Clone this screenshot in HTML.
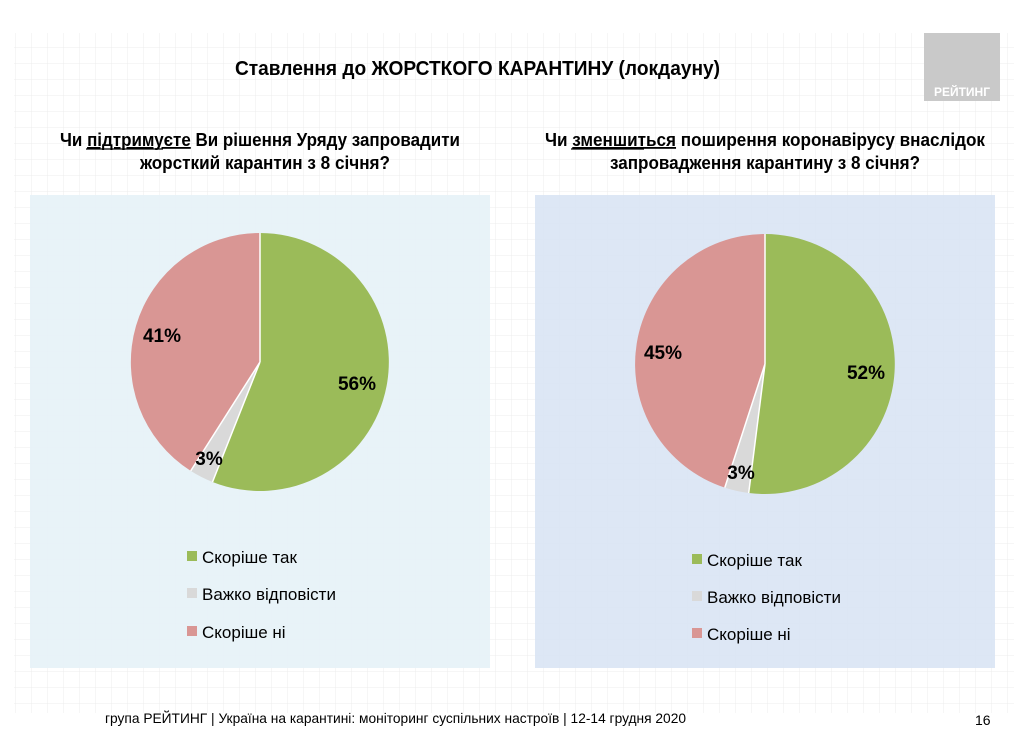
<!DOCTYPE html>
<html><head><meta charset="utf-8"><style>
html,body{margin:0;padding:0;background:#fff;}
svg{display:block;font-family:"Liberation Sans Narrow","Liberation Sans",sans-serif;}
</style></head><body>
<svg width="1024" height="732" viewBox="0 0 1024 732" xmlns="http://www.w3.org/2000/svg">
<defs>
<pattern id="g" width="16" height="16" patternUnits="userSpaceOnUse">
<path d="M16 0V16H0" fill="none" stroke="#ececec" stroke-width="1"/>
</pattern>
</defs>
<rect x="0" y="0" width="1024" height="732" fill="#fff"/>
<rect x="14" y="33" width="1000" height="680" fill="url(#g)"/>
<rect x="924" y="33" width="76" height="68" fill="#c9c9c9"/>
<text x="962" y="96" font-size="12" font-weight="bold" fill="#fff" text-anchor="middle">РЕЙТИНГ</text>
<text x="235" y="75" font-size="20" font-weight="bold" fill="#000" textLength="485" lengthAdjust="spacingAndGlyphs">Ставлення до ЖОРСТКОГО КАРАНТИНУ (локдауну)</text>
<text x="60" y="146" font-size="18" font-weight="bold" textLength="400" lengthAdjust="spacingAndGlyphs">Чи <tspan text-decoration="underline">підтримуєте</tspan> Ви рішення Уряду запровадити</text>
<line x1="86" y1="149" x2="163" y2="149" stroke="#000" stroke-width="1.3"/>
<text x="140" y="169" font-size="18" font-weight="bold" textLength="250" lengthAdjust="spacingAndGlyphs">жорсткий карантин з 8 січня?</text>
<text x="545" y="146" font-size="18" font-weight="bold" textLength="440" lengthAdjust="spacingAndGlyphs">Чи <tspan text-decoration="underline">зменшиться</tspan> поширення коронавірусу внаслідок</text>
<line x1="571" y1="149" x2="644" y2="149" stroke="#000" stroke-width="1.3"/>
<text x="610" y="169" font-size="18" font-weight="bold" textLength="310" lengthAdjust="spacingAndGlyphs">запровадження карантину з 8 січня?</text>

<rect x="30" y="195" width="460" height="473" fill="#e6f2f7" opacity="0.92"/>
<rect x="535" y="195" width="460" height="473" fill="#dbe6f4" opacity="0.95"/>

<!-- left pie -->
<path d="M260 362 L260 233 A129 129 0 1 1 212.5 482 Z" fill="#9bbb59"/>
<path d="M260 362 L212.5 482 A129 129 0 0 1 190.7 470.9 Z" fill="#d9d9d9"/>
<path d="M260 362 L190.7 470.9 A129 129 0 0 1 260 233 Z" fill="#d99694"/>
<path d="M260 362 L260 233 M260 362 L212.5 482 M260 362 L190.7 470.9" stroke="#fff" stroke-width="1.5"/>
<g font-size="19" font-weight="bold" fill="#000" text-anchor="middle">
<text x="357" y="390">56%</text>
<text x="162" y="342">41%</text>
<text x="209" y="465">3%</text>
</g>

<!-- right pie -->
<path d="M765 364 L765 234 A130 130 0 1 1 748.7 493 Z" fill="#9bbb59"/>
<path d="M765 364 L748.7 493 A130 130 0 0 1 724.8 487.6 Z" fill="#d9d9d9"/>
<path d="M765 364 L724.8 487.6 A130 130 0 0 1 765 234 Z" fill="#d99694"/>
<path d="M765 364 L765 234 M765 364 L748.7 493 M765 364 L724.8 487.6" stroke="#fff" stroke-width="1.5"/>
<g font-size="19" font-weight="bold" fill="#000" text-anchor="middle">
<text x="866" y="379">52%</text>
<text x="663" y="359">45%</text>
<text x="741" y="479">3%</text>
</g>

<!-- legends -->
<g font-size="17" fill="#000" font-family="Liberation Sans, sans-serif">
<rect x="187" y="551" width="10" height="10" fill="#9bbb59"/>
<text x="202" y="563">Скоріше так</text>
<rect x="187" y="588" width="10" height="10" fill="#d9d9d9"/>
<text x="202" y="600">Важко відповісти</text>
<rect x="187" y="626" width="10" height="10" fill="#d99694"/>
<text x="202" y="638">Скоріше ні</text>
<rect x="692" y="554" width="10" height="10" fill="#9bbb59"/>
<text x="707" y="566">Скоріше так</text>
<rect x="692" y="591" width="10" height="10" fill="#d9d9d9"/>
<text x="707" y="603">Важко відповісти</text>
<rect x="692" y="628" width="10" height="10" fill="#d99694"/>
<text x="707" y="640">Скоріше ні</text>
</g>

<text x="105" y="723" font-size="14" fill="#000" textLength="581" lengthAdjust="spacingAndGlyphs" font-family="Liberation Sans, sans-serif">група РЕЙТИНГ | Україна на карантині: моніторинг суспільних настроїв | 12-14 грудня 2020</text>
<text x="975" y="725" font-size="14" fill="#000" font-family="Liberation Sans, sans-serif">16</text>
</svg>
</body></html>
